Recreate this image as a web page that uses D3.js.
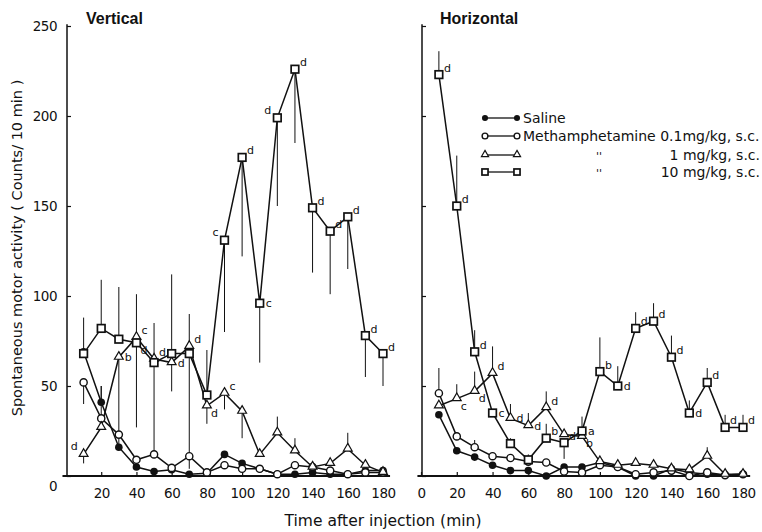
<!DOCTYPE html>
<html>
<head>
<meta charset="utf-8">
<script src="https://cdn.jsdelivr.net/npm/d3@7"></script>
<style>
  body { margin: 0; background: #fff; }
  svg text { font-family: "DejaVu Sans", sans-serif; fill: #111; }
</style>
</head>
<body>
<div id="graphics"></div>
<script>
// time after injection (min)
var time = [10, 20, 30, 40, 50, 60, 70, 80, 90, 100, 110, 120, 130, 140, 150, 160, 170, 180];
var yTicks = [0, 50, 100, 150, 200, 250];
var xTicksLeft = [20, 40, 60, 80, 100, 120, 140, 160, 180];
var xTicksRight = [0, 20, 40, 60, 80, 100, 120, 140, 160, 180];

// Vertical activity
var vSaline = [69, 41, 16, 5, 2.5, 3.5, 1, 1.5, 12, 7, 4, 1, 1, 2, 1, 1, 3, 3];
var vMeth01 = [52, 32, 23, 9, 12, 4.5, 11, 2, 6, 4, 4, 1, 6, 5, 3, 1, 2, 2];
var vMeth1 = [12, 27, 66, 77, 65, 63, 72, 39, 46, 36, 12, 24, 14, 5, 7, 15, 6, 2];
var vMeth10 = [68, 82, 76, 74, 63, 68, 68, 45, 131, 177, 96, 199, 226, 149, 136, 144, 78, 68];
// SEM (sign = drawn up / down)
var vSalineErr = [0, 9, 0, 0, 0, 0, 0, 0, 0, 0, 0, 0, 0, 0, 0, 0, 0, 0];
var vMeth01Err = [-12, 0, -8, 0, 0, 0, 0, 0, 0, 0, 0, 0, 0, 0, 0, 0, 0, 0];
var vMeth1Err = [-5, 23, -45, -50, -55, -16, 18, -10, -9, -15, 0, 9, 7, 0, 0, 9, 0, 0];
var vMeth10Err = [20, 27, 29, 27, 22, 44, -64, 25, -51, -55, -33, -49, -41, -36, -35, -29, -23, -18];
// significance letters (< left, > right, _ below, default upper right)
var vMeth1Let = ["<d", "", ">b", "c", "d", ">d", "d", "_d", "c", "", "", "", "", "", "", "", "", ""];
var vMeth10Let = ["", "", "", "_d", "", "", "", "", "<c", "d", ">c", "<d", "d", "d", "d", "d", "d", "d"];

// Horizontal activity
var hSaline = [34, 14, 10.5, 6, 3, 3, 0, 5, 5, 7.5, 5, 0, 0, 4, 2, 1, 0.5, 1];
var hMeth01 = [46, 22, 16, 11, 10, 8, 7.5, 2.5, 2, 6, 5, 1, 2, 3, 0, 2, 0.5, 1];
var hMeth1 = [39, 43, 47, 57, 32, 28, 38, 23, 22, 8, 6, 7, 6, 4, 3.5, 11, 1, 1];
var hMeth10 = [223, 150, 69, 35, 18, 9, 21, 18.5, 25, 58, 50, 82, 86, 66, 35, 52, 27, 27];
var hSalineErr = [0, 0, 0, 0, 0, 0, 0, 0, 0, 0, 0, 0, 0, 0, 0, 0, 0, 0];
var hMeth01Err = [14, 0, 4, 0, 0, 0, 0, 0, 0, 0, 0, 0, 0, 0, 0, 0, 0, 0];
var hMeth1Err = [0, 8, 11, 15, 8, 7, 9, 0, 0, 0, 0, 0, 0, 0, 0, 5, 0, 0];
var hMeth10Err = [13, 28, 12, 0, 3, 3, 8, -9, 8, 19, 11, 9, 10, 12, 7, 8, 7, 7];
var hMeth1Let = ["", "_c", "_d", "d", ">d", ">d", "d", "", "_b", "", "", "", "", "", "", "", "", ""];
var hMeth10Let = ["d", "d", "d", ">c", "", "", "b", "d", ">a", "b", ">d", "d", "d", "d", ">d", "d", "d", "d"];

var legendNames = ["Saline", "Methamphetamine 0.1mg/kg, s.c.", "1 mg/kg, s.c.", "10 mg/kg, s.c."];

var w = 762, h = 532;
var svg = d3.select("#graphics").append("svg").attr("width", w).attr("height", h);

var y = d3.scaleLinear().domain([0, 250]).range([476, 26]);
var xL = d3.scaleLinear().domain([0, 180]).range([66, 383]);
var xR = d3.scaleLinear().domain([0, 180]).range([421, 743]);

function marker(g, kind, cx, cy, s) {
  s = s || 1;
  if (kind == "filled") {
    g.append("circle").attr("cx", cx).attr("cy", cy).attr("r", 3.8 * s).attr("fill", "#111");
  } else if (kind == "open") {
    g.append("circle").attr("cx", cx).attr("cy", cy).attr("r", 3.6 * s)
      .attr("fill", "#fff").attr("stroke", "#111").attr("stroke-width", 1.4);
  } else if (kind == "tri") {
    g.append("path").attr("d", d3.symbol(d3.symbolTriangle, 34 * s * s)())
      .attr("transform", "translate(" + cx + "," + (cy - 0.5) + ")")
      .attr("fill", "#fff").attr("stroke", "#111").attr("stroke-width", 1.2);
  } else {
    g.append("rect").attr("x", cx - 3.8 * s).attr("y", cy - 3.8 * s)
      .attr("width", 7.6 * s).attr("height", 7.6 * s)
      .attr("fill", "#fff").attr("stroke", "#111").attr("stroke-width", 1.7);
  }
}

function drawPanel(x, series, ticks, showYLabels, title, titleX) {
  var g = svg.append("g");

  // axis lines
  g.append("line").attr("x1", x(0) + 1).attr("x2", x(0) + 1).attr("y1", y(0)).attr("y2", y(251))
    .attr("stroke", "#111").attr("stroke-width", 1.5);
  g.append("line").attr("x1", x(-2)).attr("x2", x(184)).attr("y1", y(0)).attr("y2", y(0))
    .attr("stroke", "#111").attr("stroke-width", 1.8);

  var yAxis = d3.axisLeft(y).tickValues(yTicks).tickSizeInner(-4).tickSizeOuter(0).tickPadding(10);
  if (!showYLabels) yAxis.tickFormat("");
  var ya = g.append("g").attr("transform", "translate(" + (x(0) + 1) + ",0)").call(yAxis);
  ya.select(".domain").remove();
  ya.selectAll("line").attr("stroke", "#111").attr("stroke-width", 1.2);
  ya.selectAll("text").attr("font-size", 13.5).attr("letter-spacing", -0.5)
    .attr("dy", function(d) { return d == 0 ? "1.05em" : "0.32em"; });

  var xAxis = d3.axisBottom(x).tickValues(ticks).tickSizeInner(-4).tickSizeOuter(0).tickPadding(12);
  var xa = g.append("g").attr("transform", "translate(0," + y(0) + ")").call(xAxis);
  xa.select(".domain").remove();
  xa.selectAll("line").attr("stroke", "#111").attr("stroke-width", 1.2);
  xa.selectAll("text").attr("font-size", 13.5).attr("letter-spacing", -0.5);

  g.append("text").attr("x", titleX).attr("y", 24).attr("font-size", 16).attr("font-weight", "bold")
    .style("font-family", "'Liberation Sans', Arial, sans-serif").text(title);

  var line = d3.line().x(function(d, i) { return x(time[i]); }).y(function(d) { return y(d); });

  series.forEach(function(s) {
    g.append("path").datum(s.values).attr("d", line)
      .attr("fill", "none").attr("stroke", "#111").attr("stroke-width", 1.5);
  });
  series.forEach(function(s) {
    s.err.forEach(function(e, i) {
      if (!e) return;
      g.append("line").attr("x1", x(time[i])).attr("x2", x(time[i]))
        .attr("y1", y(s.values[i])).attr("y2", y(Math.max(0, s.values[i] + e)))
        .attr("stroke", "#111").attr("stroke-width", 1);
    });
  });
  series.forEach(function(s) {
    s.values.forEach(function(v, i) { marker(g, s.kind, x(time[i]), y(v)); });
    if (!s.letters) return;
    s.letters.forEach(function(l, i) {
      if (!l) return;
      var px = x(time[i]), py = y(s.values[i]);
      var dx = 5, dy = -3, anchor = "start", t = l;
      if (l[0] == "<") { dx = -6; dy = -4; anchor = "end"; t = l.slice(1); }
      else if (l[0] == ">") { dx = 6; dy = 4; t = l.slice(1); }
      else if (l[0] == "_") { dx = 4; dy = 11; t = l.slice(1); }
      g.append("text").attr("x", px + dx).attr("y", py + dy).attr("text-anchor", anchor)
        .attr("font-size", 11).text(t);
    });
  });
}

drawPanel(xL, [
  {kind: "filled", values: vSaline, err: vSalineErr},
  {kind: "open", values: vMeth01, err: vMeth01Err},
  {kind: "tri", values: vMeth1, err: vMeth1Err, letters: vMeth1Let},
  {kind: "square", values: vMeth10, err: vMeth10Err, letters: vMeth10Let}
], xTicksLeft, true, "Vertical", 86);

drawPanel(xR, [
  {kind: "filled", values: hSaline, err: hSalineErr},
  {kind: "open", values: hMeth01, err: hMeth01Err},
  {kind: "tri", values: hMeth1, err: hMeth1Err, letters: hMeth1Let},
  {kind: "square", values: hMeth10, err: hMeth10Err, letters: hMeth10Let}
], xTicksRight, false, "Horizontal", 440);

// legend
var kinds = ["filled", "open", "tri", "square"];
var lg = svg.append("g");
var rowY = [118, 136, 155, 172];
kinds.forEach(function(k, i) {
  lg.append("line").attr("x1", 485).attr("x2", 517).attr("y1", rowY[i]).attr("y2", rowY[i])
    .attr("stroke", "#111").attr("stroke-width", 1.3);
  marker(lg, k, 485, rowY[i], 0.8);
  marker(lg, k, 517, rowY[i], 0.8);
  if (i < 2) {
    lg.append("text").attr("x", 523).attr("y", rowY[i] + 5).attr("font-size", 14)
      .text(legendNames[i]);
  } else {
    lg.append("text").attr("x", 596).attr("y", rowY[i] + 5).attr("font-size", 11).text("''");
    lg.append("text").attr("x", 760).attr("y", rowY[i] + 5).attr("font-size", 14)
      .attr("text-anchor", "end").text(legendNames[i]);
  }
});

svg.append("text").attr("x", 383).attr("y", 526).attr("text-anchor", "middle").attr("font-size", 15.5)
  .text("Time after injection (min)");
svg.append("text").attr("transform", "translate(22,248) rotate(-90)").attr("text-anchor", "middle")
  .attr("font-size", 14.5)
  .text("Spontaneous motor activity ( Counts/ 10 min )");
</script>
</body>
</html>
